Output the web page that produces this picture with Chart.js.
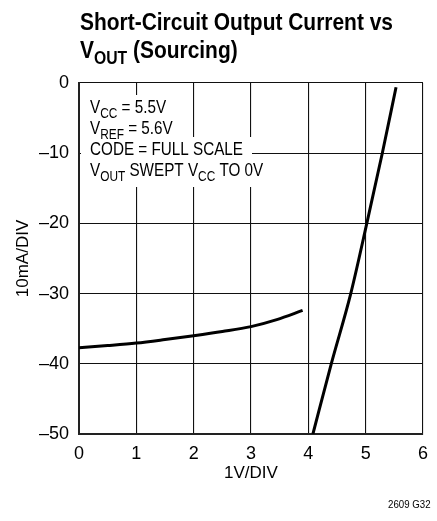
<!DOCTYPE html>
<html>
<head>
<meta charset="utf-8">
<script src="https://cdn.jsdelivr.net/npm/chart.js@4"></script>
<style>
  html, body { margin: 0; padding: 0; background: #fff; }
  canvas { display: block; }
</style>
</head>
<body>
<canvas id="chart" width="437" height="521"></canvas>
<script>
// values (V out, mA)
const lowV = [0, 0.5, 1, 1.5, 2, 2.5, 3, 3.45, 3.9];
const lowI = [-37.7, -37.4, -37.05, -36.55, -36.0, -35.4, -34.7, -33.7, -32.4];
const highV = [4.08, 4.4, 4.74, 5.02, 5.29, 5.53];
const highI = [-50, -40, -30, -20, -10, -0.6];

const xTicks = [0, 1, 2, 3, 4, 5, 6];
const yTicks = [0, -10, -20, -30, -40, -50];

const FONT = '"Liberation Sans", Arial, sans-serif';

// rich text pieces: [text, isSubscript]
const titleLines = [
    [['Short-Circuit Output Current vs', false]],
    [['V', false], ['OUT', true], [' (Sourcing)', false]]
];
const noteLines = [
    [['V', false], ['CC', true], [' = 5.5V', false]],
    [['V', false], ['REF', true], [' = 5.6V', false]],
    [['CODE = FULL SCALE', false]],
    [['V', false], ['OUT', true], [' SWEPT V', false], ['CC', true], [' TO 0V', false]]
];

function pts(xs, ys) {
    return xs.map((x, i) => ({ x: x, y: ys[i] }));
}

function richWidth(ctx, parts, size, weight) {
    let w = 0;
    parts.forEach(([t, sub]) => {
        ctx.font = `${weight} ${sub ? Math.round(size * 0.75) : size}px ${FONT}`;
        w += ctx.measureText(t).width;
    });
    return w;
}

// draws text squeezed horizontally by k, to mimic the condensed face
function drawRich(ctx, parts, x, y, size, weight, k) {
    ctx.save();
    ctx.translate(x, y);
    ctx.scale(k, 1);
    let cx = 0;
    parts.forEach(([t, sub]) => {
        const s = sub ? Math.round(size * 0.75) : size;
        ctx.font = `${weight} ${s}px ${FONT}`;
        ctx.fillText(t, cx, sub ? size * 0.25 : 0);
        cx += ctx.measureText(t).width;
    });
    ctx.restore();
}

const textPlugin = {
    id: 'texts',
    afterDraw(chart) {
        const ctx = chart.ctx;
        ctx.save();
        ctx.fillStyle = '#000';
        ctx.textBaseline = 'alphabetic';
        ctx.textAlign = 'left';

        // title, squeezed to the width of the original
        const tk = 313 / richWidth(ctx, titleLines[0], 24, 'bold');
        drawRich(ctx, titleLines[0], 80, 30, 24, 'bold', tk);
        drawRich(ctx, titleLines[1], 80, 58, 24, 'bold', tk);

        // notes with white boxes behind each line
        const nx = 90, ny = 113, step = 21, size = 18;
        const nk = 153 / richWidth(ctx, noteLines[2], size, 'normal');
        noteLines.forEach((line, i) => {
            const w = richWidth(ctx, line, size, 'normal') * nk;
            ctx.fillStyle = '#fff';
            ctx.fillRect(nx - 9, ny + i * step - 18, w + 18, step + 8);
        });
        ctx.fillStyle = '#000';
        noteLines.forEach((line, i) => {
            drawRich(ctx, line, nx, ny + i * step, size, 'normal', nk);
        });

        // figure code
        drawRich(ctx, [['2609 G32', false]], 388, 508, 11, 'normal', 0.88);
        ctx.restore();
    }
};

new Chart(document.getElementById('chart'), {
    type: 'line',
    data: {
        datasets: [
            {
                data: pts(lowV, lowI),
                borderColor: '#000',
                borderWidth: 3,
                pointRadius: 0,
                tension: 0.4,
                cubicInterpolationMode: 'monotone',
                fill: false
            },
            {
                data: pts(highV, highI),
                borderColor: '#000',
                borderWidth: 3,
                pointRadius: 0,
                tension: 0.4,
                cubicInterpolationMode: 'monotone',
                fill: false
            }
        ]
    },
    options: {
        responsive: false,
        animation: false,
        layout: { padding: { top: 83, right: 7, bottom: 33, left: 0 } },
        plugins: { legend: { display: false }, tooltip: { enabled: false } },
        scales: {
            x: {
                type: 'linear',
                min: 0, max: 6,
                afterBuildTicks: s => { s.ticks = xTicks.map(v => ({ value: v })); },
                afterFit: s => { s.height = 54; },
                grid: { color: '#111', lineWidth: 1.1, drawTicks: false },
                border: { color: '#222', width: 2 },
                ticks: { color: '#000', padding: 9, font: { family: FONT, size: 18 } },
                title: { display: true, text: '1V/DIV', color: '#000', padding: { top: 11 }, font: { family: FONT, size: 17 } }
            },
            y: {
                min: -50, max: 0,
                afterBuildTicks: s => { s.ticks = yTicks.map(v => ({ value: v })); },
                afterFit: s => { s.width = 79; },
                grid: { color: '#111', lineWidth: 1.1, drawTicks: false },
                border: { color: '#222', width: 2 },
                ticks: {
                    color: '#000', padding: 10, font: { family: FONT, size: 18 },
                    callback: v => String(v).replace('-', '\u2013')
                },
                title: { display: true, text: '10mA/DIV', color: '#000', padding: { top: 13, bottom: 0 }, font: { family: FONT, size: 17 } }
            }
        }
    },
    plugins: [textPlugin]
});
</script>
</body>
</html>
